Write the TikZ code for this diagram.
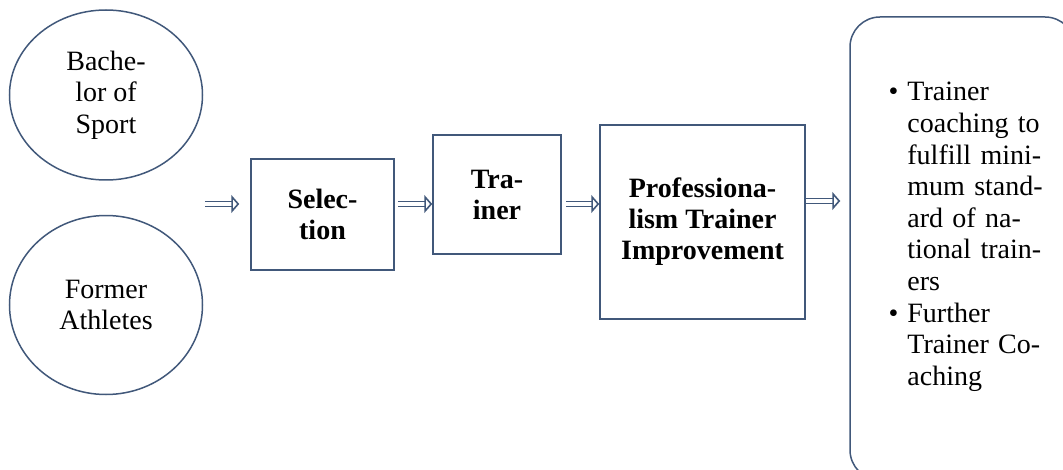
\documentclass[tikz,border=0pt]{standalone}
\usepackage{fontspec}
\setmainfont{Liberation Serif}
\usetikzlibrary{shapes.geometric,arrows.meta}
\definecolor{edgeblue}{RGB}{65,88,122}
\newcommand{\bul}{\leavevmode\llap{\textbullet\hspace{4.5pt}}}
\begin{document}
\begin{tikzpicture}[x=0.5pt,y=-0.5pt,
    font=\fontsize{14}{15.8}\selectfont,
    src/.style={ellipse,draw=edgeblue,line width=0.75pt,align=center,inner sep=0pt},
    stage/.style={rectangle,draw=edgeblue,line width=0.75pt,align=center,font=\fontsize{14}{15.5}\selectfont\bfseries},
    outbox/.style={rectangle,rounded corners=15pt,draw=edgeblue,line width=0.75pt},
    flow/.style={draw=edgeblue,double=white,double distance=1.6pt,line width=0.8pt,
      -{Triangle[open,length=4pt,width=9pt,line width=0.8pt,fill=white]}}]
  \clip (0,0) rectangle (1063,470);
  % sources
  \node[src,minimum width=96.5pt,minimum height=85pt] (bach) at (106,95) {Bache-\\lor of\\Sport};
  \node[src,minimum width=96.5pt,minimum height=89.5pt] (athl) at (106,305) {Former\\Athletes};
  % stages
  \node[stage,minimum width=71.5pt,minimum height=55.5pt] (sel) at (322.5,214.5) {Selec-\\tion};
  \node[stage,minimum width=64pt,minimum height=59.5pt] (train) at (497,194.5) {Tra-\\iner};
  \node[stage,minimum width=102.5pt,minimum height=97pt] (prof) at (702.5,222) {Professiona-\\lism Trainer\\Improvement};
  % output
  \node[outbox,minimum width=112.5pt,minimum height=231.5pt] (out) at (962.5,248.5) {};
  \node[anchor=north west,text width=80pt,align=left,inner sep=0pt] (items) at (907,82)
    {\bul Trainer\\coaching to\\fulfill mini-\\mum stand-\\ard of na-\\tional train-\\ers\\
     \bul Further\\Trainer Co-\\aching};
  % arrows
  \coordinate (inL) at (205,204); \coordinate (r2) at (0,201);
  \draw[flow,shorten >=5.5pt] (inL) -- (sel.west |- inL);
  \draw[flow] ([xshift=1.5pt]sel.east |- inL) -- (train.west |- inL);
  \draw[flow] ([xshift=2pt]train.east |- inL) -- (prof.west |- inL);
  \draw[flow,shorten >=4.5pt] (prof.east |- r2) -- (out.west |- r2);
\end{tikzpicture}
\end{document}
